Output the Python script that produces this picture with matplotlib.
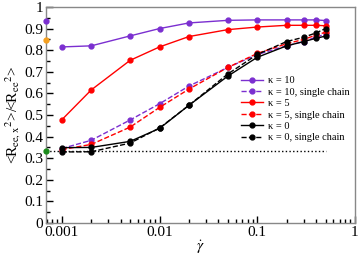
import matplotlib
matplotlib.use("Agg")
import matplotlib.pyplot as plt
from matplotlib.ticker import MultipleLocator, LogLocator, NullFormatter, FixedLocator, FixedFormatter

plt.rcParams['font.family'] = ['Liberation Serif', 'DejaVu Serif']
plt.rcParams['mathtext.fontset'] = 'stix'

shear = [0.001, 0.002, 0.005, 0.01, 0.02, 0.05, 0.1, 0.2, 0.3, 0.4, 0.5]
k10 = [0.815, 0.82, 0.866, 0.90, 0.926, 0.938, 0.94, 0.94, 0.94, 0.94, 0.937]
k10_single = [0.345, 0.383, 0.477, 0.552, 0.634, 0.72, 0.78, 0.82, 0.84, 0.86, 0.875]
k5 = [0.478, 0.616, 0.753, 0.815, 0.863, 0.895, 0.907, 0.915, 0.915, 0.915, 0.913]
k5_single = [0.34, 0.364, 0.444, 0.535, 0.62, 0.72, 0.785, 0.83, 0.85, 0.87, 0.883]
k0 = [0.349, 0.35, 0.378, 0.438, 0.545, 0.68, 0.767, 0.82, 0.84, 0.855, 0.865]
k0_single = [0.329, 0.33, 0.37, 0.44, 0.545, 0.69, 0.78, 0.84, 0.86, 0.88, 0.90]
ref_level = 1.0 / 3.0
edge_vals = [0.935, 0.845, 0.335]
edge_colors = ['#7b2fd0', '#f5a020', '#1a8a1a']

purple = '#7b2fd0'
red = '#ff0000'
black = '#000000'

fig = plt.figure(figsize=(3.6, 2.57), dpi=100)
ax = fig.add_axes([0.128, 0.132, 0.858, 0.841])

xmin, xmax = 0.00069, 1.0
ms = 3.5
lw = 1.0
ax.plot(shear, k10, '-o', color=purple, ms=ms, lw=lw, label='κ = 10')
ax.plot(shear, k10_single, '--o', color=purple, ms=ms, lw=lw, label='κ = 10, single chain')
ax.plot(shear, k5, '-o', color=red, ms=ms, lw=lw, label='κ = 5')
ax.plot(shear, k5_single, '--o', color=red, ms=ms, lw=lw, label='κ = 5, single chain')
ax.plot(shear, k0, '-o', color=black, ms=ms, lw=lw, label='κ = 0')
ax.plot(shear, k0_single, '--o', color=black, ms=ms, lw=lw, label='κ = 0, single chain')
ax.plot([xmin, shear[-1]], [ref_level, ref_level], ':', color=black, lw=1.0)
for v, c in zip(edge_vals, edge_colors):
    ax.plot([xmin], [v], 'o', color=c, ms=ms, clip_on=False, zorder=5)

ax.set_xscale('log')
ax.set_xlim(xmin, xmax)
ax.set_ylim(0, 1)
ax.xaxis.set_major_locator(FixedLocator([0.001, 0.01, 0.1, 1]))
ax.xaxis.set_major_formatter(FixedFormatter(['0.001', '0.01', '0.1', '1']))
ax.xaxis.set_minor_locator(LogLocator(base=10, subs=range(2, 10)))
ax.xaxis.set_minor_formatter(NullFormatter())
ax.yaxis.set_major_locator(MultipleLocator(0.1))
ax.yaxis.set_minor_locator(MultipleLocator(0.05))
ax.yaxis.set_major_formatter(plt.FuncFormatter(lambda v, p: '0' if abs(v) < 1e-9 else ('1' if abs(v-1) < 1e-9 else f'{v:.1f}')))
ax.tick_params(which='both', direction='in', top=False, right=False, labelsize=11, pad=2)
ax.tick_params(which='major', length=5, width=1)
ax.tick_params(which='minor', length=3, width=1)
for s in ['top', 'right', 'left', 'bottom']:
    ax.spines[s].set_color('#888888')
    ax.spines[s].set_linewidth(1.0)

ax.set_xlabel(r'$\dot{\gamma}$', fontsize=11, labelpad=0)
ax.set_ylabel(r'<R$_{\mathrm{ee,x}}$$^{2}$>/<R$_{\mathrm{ee}}$$^{2}$>', fontsize=11, labelpad=1)

leg = ax.legend(loc='upper left', bbox_to_anchor=(0.632, 0.68), frameon=False, fontsize=7.5,
                handlelength=2.1, labelspacing=0.2, handletextpad=0.5, borderaxespad=0,
                borderpad=0)

fig.savefig('out.png', dpi=100)
